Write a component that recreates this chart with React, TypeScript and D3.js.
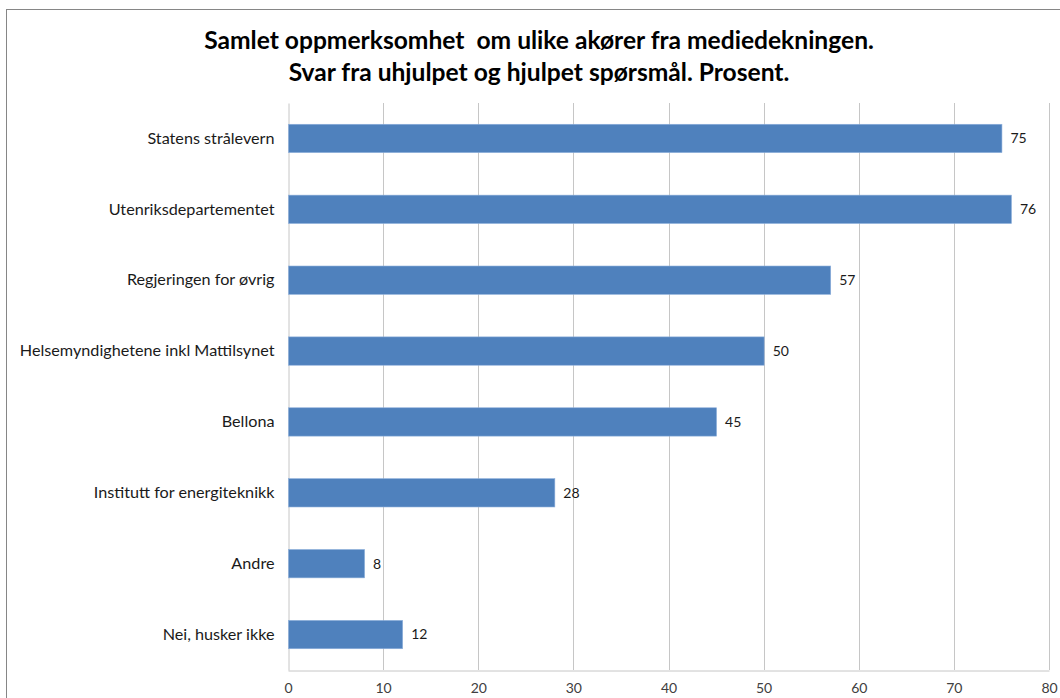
import { useEffect, useRef } from 'react';
import * as d3 from 'd3';

const width = 1060;
const height = 698;
const [mt, mr, mb, ml] = [103, 11, 28, 288];

const categories = [
    'Statens strålevern',
    'Utenriksdepartementet',
    'Regjeringen for øvrig',
    'Helsemyndighetene inkl Mattilsynet',
    'Bellona',
    'Institutt for energiteknikk',
    'Andre',
    'Nei, husker ikke'
];
const values = [75, 76, 57, 50, 45, 28, 8, 12];
const xTicks = [0, 10, 20, 30, 40, 50, 60, 70, 80];
const titleLines = [
    'Samlet oppmerksomhet  om ulike akører fra mediedekningen.',
    'Svar fra uhjulpet og hjulpet spørsmål. Prosent.'
];

const font = 'Lato, "Open Sans", sans-serif';

function App() {
    const ref = useRef<SVGSVGElement | null>(null);

    useEffect(() => {
        const svg = d3.select(ref.current);
        svg.selectAll('*').remove();

        const gw = width - ml - mr;
        const gh = height - mt - mb;

        // outer chart frame
        svg.append('rect')
            .attr('x', 6.5)
            .attr('y', 9.5)
            .attr('width', width + 20)
            .attr('height', height + 20)
            .attr('fill', '#fff')
            .attr('stroke', '#868686')
            .attr('stroke-width', 1);

        svg.append('g')
            .selectAll('text')
            .data(titleLines)
            .join('text')
            .attr('x', 539)
            .attr('y', (_, i) => 49 + i * 32)
            .attr('text-anchor', 'middle')
            .attr('font-family', font)
            .attr('font-weight', 'bold')
            .attr('font-size', 24.6)
            .attr('fill', '#000')
            .attr('xml:space', 'preserve')
            .style('white-space', 'pre')
            .text((d) => d);

        const x = d3.scaleLinear().domain([0, 80]).range([0, gw]);
        const y = d3.scaleBand().domain(categories).range([0, gh]).paddingInner(0.6).paddingOuter(0.3);

        const g = svg.append('g').attr('transform', `translate(${ml}, ${mt})`);

        // vertical gridlines
        g.append('g')
            .selectAll('line')
            .data(xTicks.slice(1))
            .join('line')
            .attr('x1', (d) => Math.round(x(d)) + 0.5)
            .attr('x2', (d) => Math.round(x(d)) + 0.5)
            .attr('y1', 0)
            .attr('y2', gh)
            .attr('stroke', '#c6c6c6');

        // x axis
        const xAxis = d3.axisBottom(x).tickValues(xTicks).tickSize(0).tickPadding(13);
        g.append('g')
            .attr('transform', `translate(0, ${gh + 0.5})`)
            .call(xAxis)
            .call((a) => a.select('.domain').attr('stroke', '#c6c6c6'))
            .call((a) => a.selectAll('text').attr('font-family', font).attr('font-size', 14).attr('fill', '#404040'));

        // y axis
        const yAxis = d3.axisLeft(y).tickSize(0).tickPadding(14);
        g.append('g')
            .attr('transform', 'translate(0.5, 0)')
            .call(yAxis)
            .call((a) => a.select('.domain').attr('stroke', '#c6c6c6'))
            .call((a) => a.selectAll('text').attr('font-family', font).attr('font-size', 16.2).attr('fill', '#1a1a1a'));

        const rows = categories.map((c, i) => ({ c, v: values[i] }));

        g.append('g')
            .selectAll('rect')
            .data(rows)
            .join('rect')
            .attr('x', 0.5)
            .attr('y', (d) => y(d.c)!)
            .attr('width', (d) => x(d.v))
            .attr('height', y.bandwidth())
            .attr('fill', '#4f81bd')
            .attr('stroke', '#8eb0db')
            .attr('stroke-width', 0.6);

        g.append('g')
            .selectAll('text')
            .data(rows)
            .join('text')
            .attr('x', (d) => x(d.v) + 9)
            .attr('y', (d) => y(d.c)! + y.bandwidth() / 2)
            .attr('dy', '0.35em')
            .attr('font-family', font)
            .attr('font-size', 14)
            .attr('fill', '#1a1a1a')
            .text((d) => d.v);
    }, []);

    return (
        <svg ref={ref} width={width} height={height} style={{ position: 'absolute', left: 0, top: 0 }} />
    );
}

export default App;
